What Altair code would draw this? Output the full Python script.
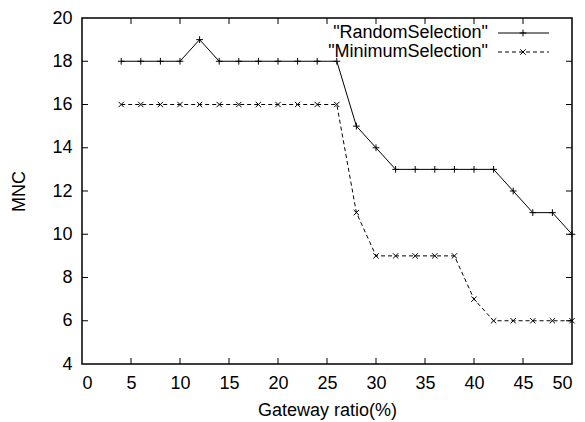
import altair as alt
import pandas as pd

x_vals = [4, 6, 8, 10, 12, 14, 16, 18, 20, 22, 24, 26, 28, 30, 32, 34, 36, 38, 40, 42, 44, 46, 48, 50]
random_sel = [18, 18, 18, 18, 19, 18, 18, 18, 18, 18, 18, 18, 15, 14, 13, 13, 13, 13, 13, 13, 12, 11, 11, 10]
minimum_sel = [16, 16, 16, 16, 16, 16, 16, 16, 16, 16, 16, 16, 11, 9, 9, 9, 9, 9, 7, 6, 6, 6, 6, 6]
x_ticks = [0, 5, 10, 15, 20, 25, 30, 35, 40, 45, 50]
y_ticks = [4, 6, 8, 10, 12, 14, 16, 18, 20]

FONT = "Liberation Sans"
FS = 18
W, H = 490, 346

df_r = pd.DataFrame({"x": x_vals, "y": random_sel})
df_m = pd.DataFrame({"x": x_vals, "y": minimum_sel})

xs = alt.Scale(domain=[0, 50], nice=False, zero=False)
ys = alt.Scale(domain=[4, 20], nice=False, zero=False)

PLUS = "M-1,0L1,0M0,-1L0,1"
CROSS = "M-0.8,-0.8L0.8,0.8M-0.8,0.8L0.8,-0.8"

base_x = alt.X("x:Q", scale=xs, axis=alt.Axis(values=x_ticks, title="Gateway ratio(%)", grid=False,
                                               tickSize=0, labelPadding=10, titlePadding=9,
                                               domain=False, labelFont=FONT, labelFontSize=FS,
                                               titleFont=FONT, titleFontSize=FS, titleFontWeight="normal",
                                               labelColor="black", titleColor="black"))
base_y = alt.Y("y:Q", scale=ys, axis=alt.Axis(values=y_ticks, title="MNC", grid=False,
                                               tickSize=0, labelPadding=10, titlePadding=23,
                                               domain=False, labelFont=FONT, labelFontSize=FS,
                                               titleFont=FONT, titleFontSize=FS, titleFontWeight="normal",
                                               labelColor="black", titleColor="black"))

line_r = alt.Chart(df_r).mark_line(color="black", strokeWidth=1).encode(x=base_x, y=base_y)
pts_r = alt.Chart(df_r).mark_point(shape=PLUS, size=45, color="black", filled=False, strokeWidth=1, opacity=1).encode(
    x=alt.X("x:Q", scale=xs), y=alt.Y("y:Q", scale=ys))
line_m = alt.Chart(df_m).mark_line(color="black", strokeWidth=1, strokeDash=[4, 3]).encode(
    x=alt.X("x:Q", scale=xs), y=alt.Y("y:Q", scale=ys))
pts_m = alt.Chart(df_m).mark_point(shape=CROSS, size=45, color="black", filled=False, strokeWidth=1, opacity=1).encode(
    x=alt.X("x:Q", scale=xs), y=alt.Y("y:Q", scale=ys))

# inward ticks (gnuplot style, mirrored)
xt = pd.DataFrame({"x": x_ticks[1:-1]})
yt = pd.DataFrame({"y": y_ticks[1:-1]})
tick_bottom = alt.Chart(xt).mark_rule(color="black", strokeWidth=1).encode(
    x=alt.X("x:Q", scale=xs), y=alt.value(H), y2=alt.value(H - 6))
tick_top = alt.Chart(xt).mark_rule(color="black", strokeWidth=1).encode(
    x=alt.X("x:Q", scale=xs), y=alt.value(0), y2=alt.value(6))
tick_left = alt.Chart(yt).mark_rule(color="black", strokeWidth=1).encode(
    y=alt.Y("y:Q", scale=ys), x=alt.value(0), x2=alt.value(6))
tick_right = alt.Chart(yt).mark_rule(color="black", strokeWidth=1).encode(
    y=alt.Y("y:Q", scale=ys), x=alt.value(W), x2=alt.value(W - 6))

# legend
leg = pd.DataFrame({"label": ['"RandomSelection"', '"MinimumSelection"'], "row": [0, 1]})
leg_text_r = alt.Chart(leg[leg.row == 0]).mark_text(align="right", baseline="middle", font=FONT, fontSize=FS, color="black").encode(
    text="label:N", x=alt.value(406), y=alt.value(15))
leg_text_m = alt.Chart(leg[leg.row == 1]).mark_text(align="right", baseline="middle", font=FONT, fontSize=FS, color="black").encode(
    text="label:N", x=alt.value(406), y=alt.value(34))
leg_line_r = alt.Chart(leg[leg.row == 0]).mark_rule(color="black", strokeWidth=1).encode(
    x=alt.value(416), x2=alt.value(467), y=alt.value(15))
leg_line_m = alt.Chart(leg[leg.row == 1]).mark_rule(color="black", strokeWidth=1, strokeDash=[4, 3]).encode(
    x=alt.value(416), x2=alt.value(467), y=alt.value(34))
leg_pt_r = alt.Chart(leg[leg.row == 0]).mark_point(shape=PLUS, size=45, color="black", filled=False, strokeWidth=1, opacity=1).encode(
    x=alt.value(441), y=alt.value(15))
leg_pt_m = alt.Chart(leg[leg.row == 1]).mark_point(shape=CROSS, size=45, color="black", filled=False, strokeWidth=1, opacity=1).encode(
    x=alt.value(441), y=alt.value(34))

chart = alt.layer(
    line_r, pts_r, line_m, pts_m,
    tick_bottom, tick_top, tick_left, tick_right,
    leg_text_r, leg_text_m, leg_line_r, leg_line_m, leg_pt_r, leg_pt_m,
).properties(
    width=W, height=H,
    autosize=alt.AutoSizeParams(type="none"),
    padding={"left": 74, "top": 10, "right": 5, "bottom": 56},
).configure(
    background="white"
).configure_view(
    stroke="black", strokeWidth=1.5
)

chart.save("out.html", embed_options={"renderer": "svg", "actions": False})
